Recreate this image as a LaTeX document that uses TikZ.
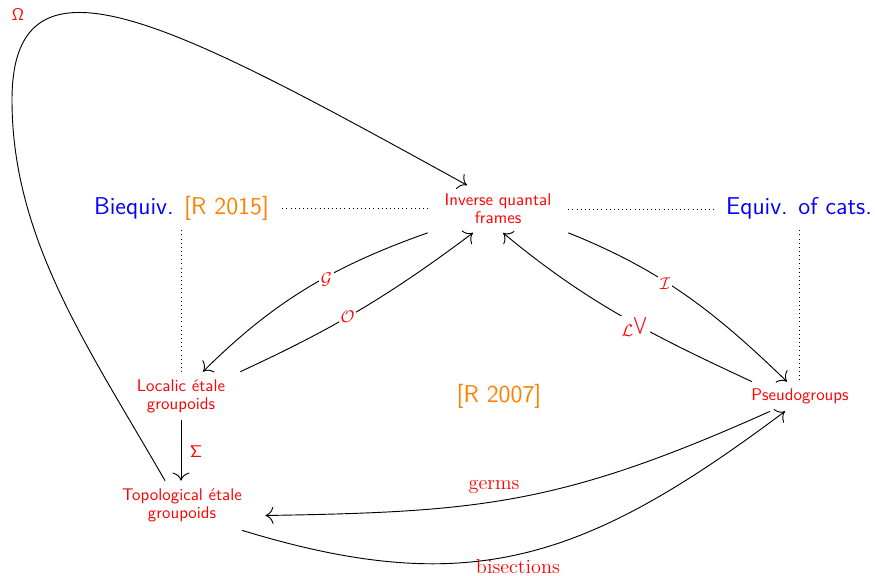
\documentclass[tikz,border=0pt]{standalone}
\usetikzlibrary{calc,arrows.meta}
\newdimen\pxu \pxu=0.5917pt
\begin{document}
\begin{tikzpicture}[x=\pxu,y=-\pxu,
  obj/.style={text=red,font=\sffamily\fontsize{10}{10.5}\selectfont,align=center,inner sep=0pt},
  bigtxt/.style={font=\sffamily\Large},
  lab/.style={text=red,fill=white,inner sep=1.2pt},
  wlab/.style={text=red,font=\large,inner sep=1pt},
  conn/.style={-{To[scale=1.7]},line width=0.55pt},
  dots/.style={dotted,line width=0.45pt}]
\useasboundingbox (0,0) rectangle (875,576);
% objects
\node[obj,minimum width=140\pxu,minimum height=47\pxu] (iqf) at (498,209) {Inverse quantal\\frames};
\node[obj,minimum width=118\pxu,minimum height=48\pxu] (loc) at (181,396) {Localic étale\\groupoids};
\node[obj,minimum width=166\pxu,minimum height=49\pxu] (topo) at (182,505.5) {Topological étale\\groupoids};
\node[obj,minimum width=104\pxu,minimum height=29\pxu] (pseudo) at (800,396.5) {Pseudogroups};
% big texts
\node[bigtxt,text=blue,inner xsep=13\pxu,minimum height=44\pxu] (bieq) at (181.5,208) {Biequiv. \textcolor{orange}{[R 2015]}};
\node[bigtxt,text=blue,inner xsep=10\pxu,minimum height=44\pxu] (eqv) at (799,208) {Equiv. of cats.};
\node[bigtxt,text=orange] (r07) at (499,396) {[R 2007]};
% dotted lines
\draw[dots] (bieq.east) -- (bieq.east -| iqf.west);
\draw[dots] (iqf.east) -- (iqf.east -| eqv.west);
\draw[dots] (bieq.south) -- (bieq.south |- loc.north);
\draw[dots] (eqv.south) -- (eqv.south |- pseudo.north);
% arrows
\draw[conn] (iqf.south west) .. controls (334,266) and (274,301) .. ($(loc.north)+(22,0)$);
\draw[conn] (loc.north east) .. controls (335,328) and (390,295) .. ($(iqf.south)+(-25,0)$);
\draw[conn] (iqf.south east) .. controls (661,270) and (714,311) .. ($(pseudo.north)+(-13,0)$);
\draw[conn] ($(pseudo.north)+(-48,0)$) .. controls (651.5,335) and (586,302) .. ($(iqf.south)+(5,0)$);
\draw[conn] (loc.south) -- (loc.south |- topo.north);
\draw[conn] ($(topo.north)+(-17,0)$) .. controls (90,350) and (12,240) .. (12,100)
   .. controls (12,-65) and (178,26) .. ($(iqf.north)+(-31,0)$);
\draw[conn] ($(pseudo.south)+(-30,0)$) .. controls (561,505) and (480,512) .. ($(topo.east)+(0,10)$);
\draw[conn] ($(topo.south)+(60,0)$) .. controls (470,600) and (585,561) .. ($(pseudo.south)+(-15,0)$);
% labels
\node[lab] (lG) at (326.5,280) {$\mathcal{G}$};
\node[lab] (lO) at (347.5,316.5) {$\mathcal{O}$};
\node[lab] (lI) at (665,284) {$\mathcal{I}$};
\node[lab] (lL) at (635,327) {$\mathcal{L}^{\bigvee}$};
\node[text=red,inner sep=1pt] (lS) at (196,452) {$\mathsf{\Sigma}$};
\node[text=red,inner sep=1pt] (lW) at (18,15) {$\mathsf{\Omega}$};
\node[wlab] (lgerms) at (494,487) {germs};
\node[wlab] (lbis) at (518,567) {bisections};
\end{tikzpicture}
\end{document}
